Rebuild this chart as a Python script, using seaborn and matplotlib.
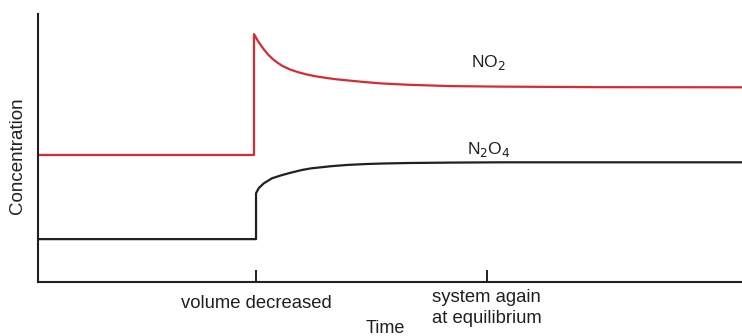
import matplotlib
matplotlib.use("Agg")
import matplotlib.pyplot as plt
import matplotlib.transforms as mtransforms
import seaborn as sns
import pandas as pd

# Time axis (arbitrary units, 0-100) and concentrations (arbitrary units, 0-100)
no2_time = [0, 30.68, 30.68, 31.25, 31.96, 32.67, 33.38, 34.09, 34.80, 35.80,
            36.93, 38.07, 39.35, 40.77, 42.19, 44.03, 46.45, 48.72, 52.56,
            58.52, 65.63, 79.83, 100]
no2_conc = [47.4, 47.4, 92.5, 89.9, 87.2, 84.9, 83.1, 81.7, 80.5, 79.3,
            78.3, 77.5, 76.8, 76.2, 75.7, 75.2, 74.6, 74.1, 73.6,
            73.1, 72.9, 72.7, 72.65]

n2o4_time = [0, 30.97, 30.97, 31.35, 32.06, 33.24, 34.66, 36.08, 37.50, 38.78,
             41.62, 44.03, 46.45, 48.72, 52.56, 58.52, 65.63, 100]
n2o4_conc = [16.0, 16.0, 33.1, 35.0, 36.8, 38.7, 39.9, 40.9, 41.8, 42.4,
             43.2, 43.7, 44.0, 44.2, 44.4, 44.55, 44.66, 44.66]

tick_pos = [30.97, 63.78]
tick_labels = ["volume decreased", "system again\nat equilibrium"]

sns.set_theme(style="white")
plt.rcParams["font.family"] = ["Liberation Sans", "DejaVu Sans"]

fig = plt.figure(figsize=(7.42, 3.36), dpi=100)
ax = fig.add_axes([38 / 742, 54 / 336, 704 / 742, 268 / 336])

df_no2 = pd.DataFrame({"Time": no2_time, "Concentration": no2_conc})
df_n2o4 = pd.DataFrame({"Time": n2o4_time, "Concentration": n2o4_conc})

sns.lineplot(data=df_no2, x="Time", y="Concentration", ax=ax, sort=False,
             estimator=None, color="#d92b2e", linewidth=1.6,
             solid_joinstyle="round")
sns.lineplot(data=df_n2o4, x="Time", y="Concentration", ax=ax, sort=False,
             estimator=None, color="#231f20", linewidth=1.6,
             solid_joinstyle="round")

ax.set_xlim(0, 100)
ax.set_ylim(0, 100)
ax.set_yticks([])
ax.set_xticks(tick_pos)
ax.set_xticklabels(tick_labels, fontsize=13.3, color="#231f20",
                   multialignment="left", linespacing=1.3)
ax.tick_params(axis="x", direction="in", length=9, width=1.4,
               color="#231f20", pad=9, bottom=True)
# second (two-line) label sits a little higher in the reference
lbl2 = ax.get_xticklabels()[1]
lbl2.set_transform(lbl2.get_transform() +
                   mtransforms.ScaledTranslation(0, 5 / 100, fig.dpi_scale_trans))

for side in ["top", "right"]:
    ax.spines[side].set_visible(False)
for side in ["left", "bottom"]:
    ax.spines[side].set_color("#231f20")
    ax.spines[side].set_linewidth(1.5)

ax.set_xlabel("")
ax.set_ylabel("Concentration", fontsize=13.5, color="#231f20")
ax.yaxis.set_label_coords(-0.017, 0.47)

fig.text(385 / 742, (336 - 320) / 336, "Time", ha="center", va="top",
         fontsize=13, color="#231f20")

ax.text(64.0, 82.0, r"NO$_2$", fontsize=12.5, color="#231f20", ha="center",
        va="center")
ax.text(64.0, 49.5, r"N$_2$O$_4$", fontsize=12.5, color="#231f20", ha="center",
        va="center")

fig.savefig("out.png", dpi=100)
